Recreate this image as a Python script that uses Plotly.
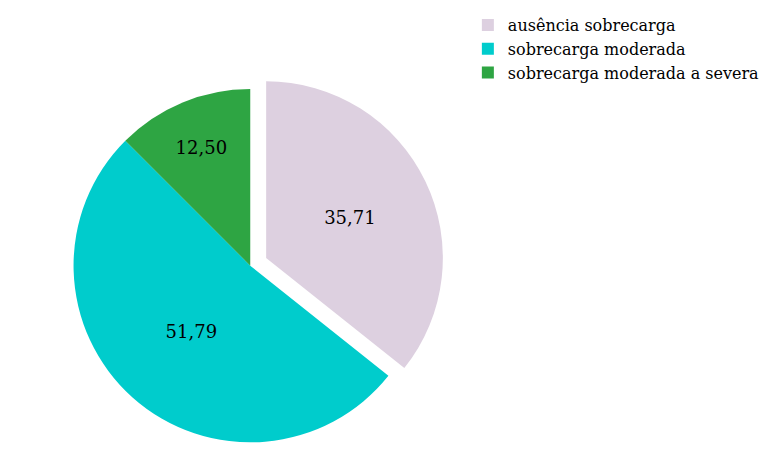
import plotly.graph_objects as go

categories = ["ausência sobrecarga", "sobrecarga moderada", "sobrecarga moderada a severa"]
values = [35.71, 51.79, 12.50]
slice_colors = ["#DDD0E0", "#00CCCC", "#2EA543"]
pulls = [0.1, 0, 0]

fig = go.Figure(go.Pie(
    labels=categories,
    values=values,
    sort=False,
    direction="clockwise",
    rotation=0,
    pull=pulls,
    marker=dict(colors=slice_colors, line=dict(width=0)),
    texttemplate="%{value:.2f}",
    textposition="inside",
    insidetextorientation="horizontal",
    textfont=dict(family="DejaVu Serif", size=18, color="black"),
    hoverinfo="label+value",
    domain=dict(x=[0.0, 0.63], y=[0.0, 0.86]),
))

fig.update_layout(
    width=769, height=452,
    separators=",.",
    font=dict(family="DejaVu Serif", size=15, color="black"),
    margin=dict(l=0, r=0, t=0, b=0),
    paper_bgcolor="white",
    plot_bgcolor="white",
    showlegend=True,
    legend=dict(
        x=0.598, y=1.0, xanchor="left", yanchor="top",
        font=dict(family="DejaVu Serif", size=16, color="black"),
        itemsizing="constant", tracegroupgap=0,
        bgcolor="rgba(0,0,0,0)",
    ),
)

fig.write_html("out.html")
